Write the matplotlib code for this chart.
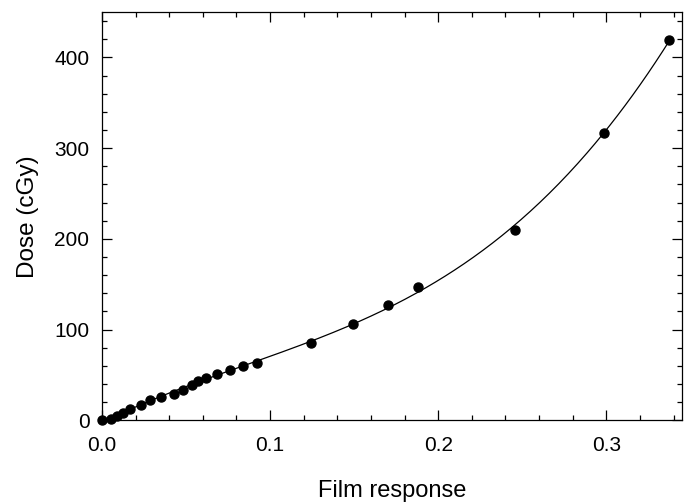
import numpy as np
import matplotlib
matplotlib.use("Agg")
import matplotlib.pyplot as plt
from matplotlib.ticker import MultipleLocator

# film response vs dose
film_response = [0.0, 0.0052, 0.0087, 0.0123, 0.0166, 0.023, 0.0285, 0.0354,
                 0.0427, 0.0483, 0.0538, 0.0572, 0.0621, 0.0687, 0.076, 0.0839,
                 0.0922, 0.1245, 0.1491, 0.1703, 0.1881, 0.2455, 0.2989, 0.3371]
dose = [0, 2, 5, 8.6, 12.3, 16.7, 22.2, 25.5, 29.1, 33.5, 39, 43, 47, 51.4,
        55.8, 60, 63.5, 84.8, 106.3, 127.2, 146.5, 210, 316.3, 419]

x = np.array(film_response)
y = np.array(dose)

# fitted calibration curve (cubic through the measured points)
coef = np.polyfit(x, y, 3)
xf = np.linspace(0, x.max(), 300)
yf = np.polyval(coef, xf)

plt.rcParams['font.family'] = ['Liberation Sans', 'DejaVu Sans']

fig = plt.figure(figsize=(6.84, 5.04), dpi=100)
ax = fig.add_axes([0.149, 0.166, 0.848, 0.810])

ax.plot(xf, yf, color='black', lw=0.9, zorder=2)
ax.plot(x, y, 'o', color='black', ms=6.5, clip_on=False, zorder=3)

ax.set_xlim(0, 0.345)
ax.set_ylim(0, 450)
ax.xaxis.set_major_locator(MultipleLocator(0.1))
ax.xaxis.set_minor_locator(MultipleLocator(0.02))
ax.yaxis.set_major_locator(MultipleLocator(100))
ax.yaxis.set_minor_locator(MultipleLocator(20))
ax.xaxis.set_major_formatter(matplotlib.ticker.FormatStrFormatter('%.1f'))

ax.tick_params(which='both', direction='in', top=True, right=True,
               labelsize=15, width=0.9)
ax.tick_params(which='major', length=7)
ax.tick_params(which='minor', length=3.5)
ax.tick_params(axis='x', pad=11)
ax.tick_params(axis='y', pad=9)
for s in ax.spines.values():
    s.set_linewidth(0.9)

ax.set_xlabel('Film response', fontsize=17, labelpad=18)
ax.set_ylabel('Dose (cGy)', fontsize=17.5, labelpad=11)

fig.savefig('out.png', dpi=100)
